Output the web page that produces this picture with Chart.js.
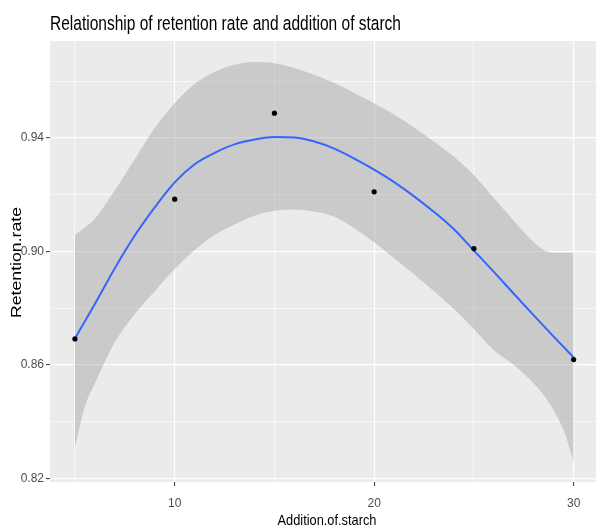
<!DOCTYPE html>
<html>
<head>
<meta charset="utf-8">
<script src="https://cdn.jsdelivr.net/npm/chart.js@4.4.0/dist/chart.umd.min.js"></script>
<style>
  body { margin: 0; background: #ffffff; overflow: hidden; }
  #wrap { width: 596px; height: 526px; }
</style>
</head>
<body>
<div id="wrap"><canvas id="myChart" width="596" height="526"></canvas></div>
<script>
// observed points
const starch = [5, 10, 15, 20, 25, 30];
const retention = [0.8692, 0.9184, 0.9487, 0.9210, 0.9010, 0.8619];

// loess fit
const fitX = [5, 6, 7, 8, 9, 10, 11, 12, 13, 14, 15, 16, 17, 18, 19, 20, 21, 22, 23, 24, 25, 26, 27, 28, 29, 30];
const fitY = [0.8693, 0.8815, 0.8941, 0.9056, 0.9155, 0.9243, 0.9307, 0.9347, 0.9377, 0.9394, 0.9403, 0.9401, 0.9387, 0.9362, 0.9327,
              0.9288, 0.9244, 0.9194, 0.9139, 0.9078, 0.9003, 0.8928, 0.8851, 0.8775, 0.8700, 0.8627];

// confidence band
const bandX = [5, 5.5, 6, 7, 8, 9, 10, 11, 12, 13, 14, 15, 16, 17, 18, 19, 20, 21, 22, 23, 24, 25, 26, 27, 28, 28.6, 29, 29.5, 30];
const bandUpper = [0.9057, 0.9085, 0.9115, 0.9215, 0.9325, 0.9435, 0.9522, 0.9590, 0.9632, 0.9657, 0.9667, 0.9663, 0.9646, 0.9622, 0.9593,
                   0.9558, 0.9522, 0.9482, 0.9436, 0.9386, 0.9333, 0.9268, 0.9188, 0.9108, 0.9032, 0.9002, 0.8995, 0.8995, 0.8995];
const bandLower = [0.8310, 0.8455, 0.8535, 0.8680, 0.8780, 0.8860, 0.8938, 0.9005, 0.9058, 0.9095, 0.9126, 0.9143, 0.9148, 0.9141, 0.9122,
                   0.9082, 0.9032, 0.8976, 0.8920, 0.8860, 0.8797, 0.8727, 0.8652, 0.8600, 0.8535, 0.8485, 0.8440, 0.8370, 0.8258];

// grid / tick positions
const xGrid = [5, 10, 15, 20, 25, 30];
const xLabels = [10, 20, 30];
const yGrid = [0.82, 0.84, 0.86, 0.88, 0.90, 0.92, 0.94, 0.96];
const yLabels = ['0.82', '0.86', '0.90', '0.94'];

const toXY = (xs, ys) => xs.map((x, i) => ({ x: x, y: ys[i] }));
const isXMajor = v => xLabels.includes(v);
const isYMajor = v => yLabels.includes(v.toFixed(2));

const FONT = '"Liberation Sans", Arial, sans-serif';

// draw text squeezed/stretched to a target width
function fitText(ctx, text, x, y, size, targetW, align, angle) {
    ctx.save();
    ctx.font = size + 'px ' + FONT;
    const w = ctx.measureText(text).width;
    ctx.translate(x, y);
    if (angle) ctx.rotate(angle);
    ctx.scale(targetW / w, 1);
    ctx.textAlign = align;
    ctx.textBaseline = 'alphabetic';
    ctx.fillStyle = '#000000';
    ctx.fillText(text, 0, 0);
    ctx.restore();
}

const panelBg = {
    id: 'panelBg',
    beforeDraw(chart) {
        const a = chart.chartArea;
        const ctx = chart.ctx;
        ctx.save();
        ctx.fillStyle = '#ebebeb';
        ctx.fillRect(a.left, a.top, a.right - a.left, a.bottom - a.top);
        ctx.restore();
    }
};

const labels = {
    id: 'labels',
    afterDraw(chart) {
        const ctx = chart.ctx;
        fitText(ctx, 'Relationship of retention rate and addition of starch', 50, 30, 20.5, 351, 'left');
        fitText(ctx, 'Addition.of.starch', 327, 525, 15, 99, 'center');
        fitText(ctx, 'Retention.rate', 21, 262.5, 15, 111, 'center', -Math.PI / 2);
    }
};

const smooth = { borderWidth: 0, pointRadius: 0, cubicInterpolationMode: 'monotone' };

var ctx = document.getElementById('myChart').getContext('2d');
var myChart = new Chart(ctx, {
    type: 'line',
    data: {
        datasets: [
            Object.assign({
                data: toXY(bandX, bandUpper),
                fill: '+1',
                backgroundColor: 'rgba(153,153,153,0.4)',
                order: 3
            }, smooth),
            Object.assign({
                data: toXY(bandX, bandLower),
                fill: false,
                order: 4
            }, smooth),
            {
                data: toXY(fitX, fitY),
                borderColor: '#3366ff',
                borderWidth: 2,
                pointRadius: 0,
                cubicInterpolationMode: 'monotone',
                fill: false,
                order: 1
            },
            {
                data: toXY(starch, retention),
                showLine: false,
                pointRadius: 2.6,
                pointBackgroundColor: '#000000',
                pointBorderWidth: 0,
                order: 0
            }
        ]
    },
    options: {
        responsive: false,
        devicePixelRatio: 1,
        animation: false,
        layout: { autoPadding: false, padding: { top: 41, left: 0, right: 0, bottom: 0 } },
        plugins: {
            legend: { display: false },
            tooltip: { enabled: false },
            title: { display: false }
        },
        scales: {
            x: {
                type: 'linear',
                min: 3.75,
                max: 31.12,
                afterBuildTicks: axis => { axis.ticks = xGrid.map(v => ({ value: v })); },
                afterFit: scale => { scale.height = 44; scale.paddingLeft = 0; scale.paddingRight = 0; },
                border: { display: false },
                grid: {
                    color: '#ffffff',
                    lineWidth: c => isXMajor(c.tick.value) ? 1.2 : 0.6,
                    tickColor: c => isXMajor(c.tick.value) ? '#333333' : 'rgba(0,0,0,0)',
                    tickLength: 4,
                    tickWidth: 1
                },
                ticks: {
                    autoSkip: false,
                    maxRotation: 0,
                    padding: 10,
                    color: '#4d4d4d',
                    font: { family: FONT, size: 12 },
                    callback: v => isXMajor(v) ? String(v) : ''
                }
            },
            y: {
                min: 0.8188,
                max: 0.9741,
                afterBuildTicks: axis => { axis.ticks = yGrid.map(v => ({ value: v })); },
                afterFit: scale => { scale.width = 50; scale.paddingTop = 0; scale.paddingBottom = 0; },
                border: { display: false },
                grid: {
                    color: '#ffffff',
                    lineWidth: c => isYMajor(c.tick.value) ? 1.2 : 0.6,
                    tickColor: c => isYMajor(c.tick.value) ? '#333333' : 'rgba(0,0,0,0)',
                    tickLength: 4,
                    tickWidth: 1
                },
                ticks: {
                    autoSkip: false,
                    padding: 2,
                    color: '#4d4d4d',
                    font: { family: FONT, size: 12 },
                    callback: v => isYMajor(v) ? v.toFixed(2) : ''
                }
            }
        }
    },
    plugins: [panelBg, labels]
});
</script>
</body>
</html>
